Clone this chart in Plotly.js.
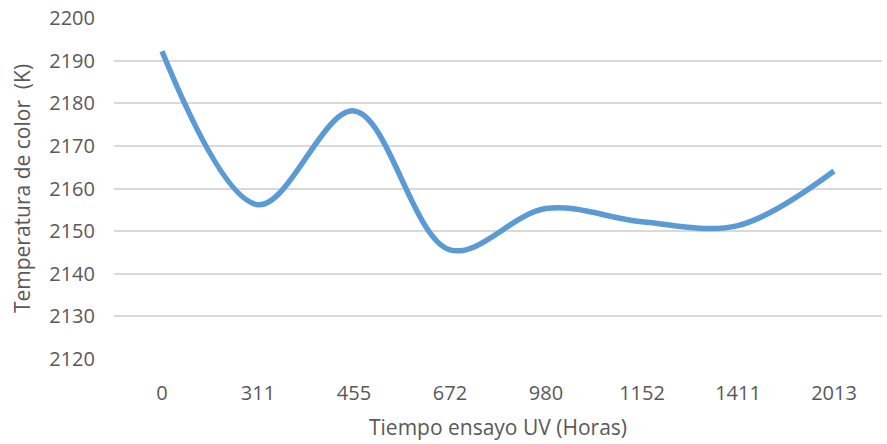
<!DOCTYPE html>
<html>
<head>
<meta charset="utf-8">
<script src="https://cdn.plot.ly/plotly-3.0.1.min.js"></script>
<style>html,body{margin:0;padding:0;background:#fff;}#chart{width:887px;height:444px;}</style>
</head>
<body>
<div id="chart"></div>
<script>
const categories = ["0", "311", "455", "672", "980", "1152", "1411", "2013"];
const colorTemp = [2192.2, 2156.2, 2178.2, 2145.6, 2155.3, 2152.2, 2151.3, 2164.1];
const yTicks = [2120, 2130, 2140, 2150, 2160, 2170, 2180, 2190, 2200];

const font = "Open Sans, Noto Sans, sans-serif";
const trace = {
  x: categories,
  y: colorTemp,
  type: "scatter",
  mode: "lines",
  line: {color: "#5B9BD5", width: 5.5, shape: "spline", smoothing: 1},
  hoverinfo: "skip"
};
const layout = {
  width: 887, height: 444,
  margin: {l: 114, r: 5, t: 18, b: 85},
  paper_bgcolor: "#ffffff",
  plot_bgcolor: "#ffffff",
  showlegend: false,
  font: {family: font, color: "#595959", size: 20},
  xaxis: {
    type: "category",
    range: [-0.5, 7.5],
    showgrid: false, zeroline: false, showline: false,
    ticks: "", ticklen: 0,
    ticklabelstandoff: 20,
    tickfont: {family: font, size: 20, color: "#595959"},
    title: {text: "Tiempo ensayo UV (Horas)", font: {family: font, size: 21, color: "#595959"}, standoff: 15}
  },
  yaxis: {
    range: [2120, 2200],
    tickvals: yTicks,
    ticktext: yTicks.map(String),
    showgrid: true, gridcolor: "#d9d9d9", gridwidth: 2,
    zeroline: false, showline: false,
    ticks: "", ticklen: 0,
    ticklabelstandoff: 18,
    tickfont: {family: font, size: 20, color: "#595959"},
    title: {text: "Temperatura de color  (K)", font: {family: font, size: 21, color: "#595959"}, standoff: 12}
  }
};
Plotly.newPlot("chart", [trace], layout, {staticPlot: true, displayModeBar: false});
</script>
</body>
</html>
